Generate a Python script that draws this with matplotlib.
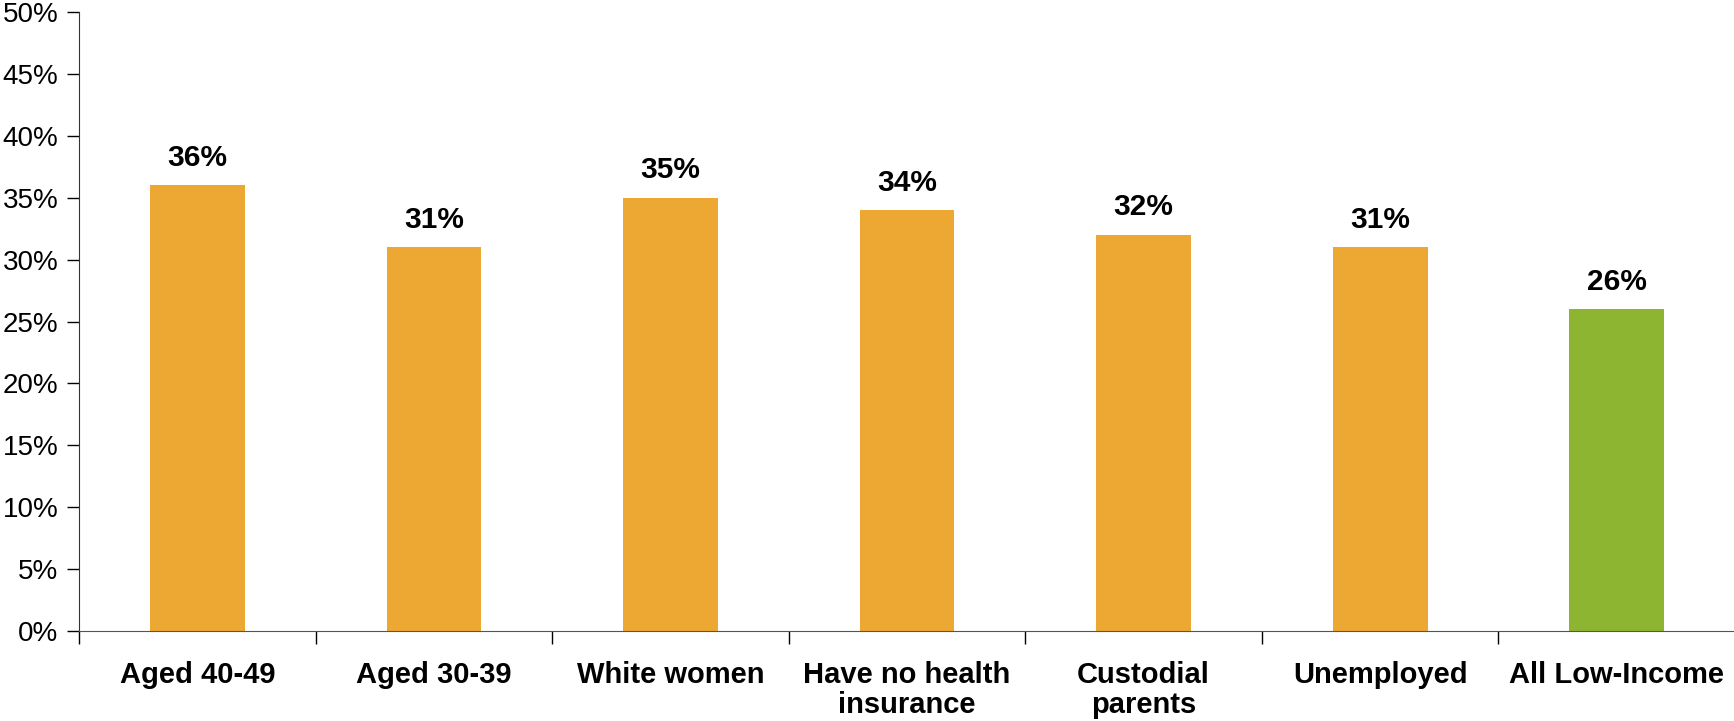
import matplotlib.pyplot as plt
from matplotlib.ticker import MultipleLocator, FuncFormatter

plt.rcParams['font.family'] = ['Liberation Sans', 'DejaVu Sans']

categories = ['Aged 40-49', 'Aged 30-39', 'White women', 'Have no health\ninsurance',
              'Custodial\nparents', 'Unemployed', 'All Low-Income']
values = [36, 31, 35, 34, 32, 31, 26]
colors = ['#EDA833'] * 6 + ['#8EB532']

fig = plt.figure(figsize=(17.34, 7.21), dpi=100)
ax = fig.add_axes([0.0456, 0.125, 0.955, 0.858])

x = range(len(categories))
ax.bar(x, values, width=0.4, color=colors, zorder=2)

for i, v in enumerate(values):
    ax.text(i, v + 1.1, f'{v}%', ha='center', va='bottom', fontsize=21.5, fontweight='bold')

ax.set_ylim(0, 50)
ax.set_xlim(-0.5, len(categories) - 0.5)
ax.yaxis.set_major_locator(MultipleLocator(5))
ax.yaxis.set_major_formatter(FuncFormatter(lambda v, p: f'{v:.0f}%'))
ax.tick_params(axis='y', labelsize=20, length=9, width=1, pad=6, colors='black')

# category labels centred under bars, ticks at the boundaries
ax.set_xticks([i + 0.5 for i in range(-1, len(categories))])
ax.set_xticklabels([])
ax.tick_params(axis='x', length=9, width=1)
for i, c in enumerate(categories):
    ax.text(i, -2.4, c, ha='center', va='top', fontsize=21, fontweight='bold',
            linespacing=1.12)

for s in ['top', 'right']:
    ax.spines[s].set_visible(False)
ax.spines['left'].set_color('#333333')
ax.spines['bottom'].set_color('#555555')

fig.savefig('out.png', dpi=100)
